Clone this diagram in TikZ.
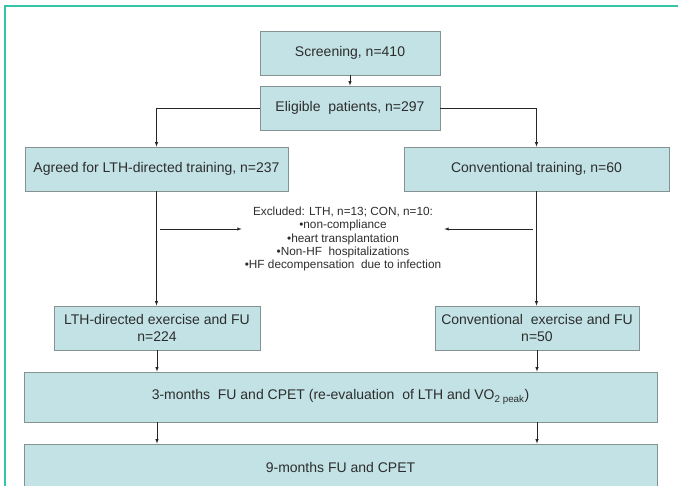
\documentclass[tikz,border=0pt]{standalone}
\usepackage{fontspec}
\setmainfont{Liberation Sans}
\usepackage{tikz}
\definecolor{boxfill}{RGB}{194,226,229}
\definecolor{boxline}{RGB}{132,146,148}
\definecolor{framecol}{RGB}{52,196,168}
\definecolor{txt}{RGB}{45,45,45}

\begin{document}
\begin{tikzpicture}[
   x=1pt,y=-1pt,
   font=\fontsize{14}{16.5}\selectfont,
   box/.style={draw=boxline,fill=boxfill,line width=0.9pt,text=txt,align=center,inner sep=2pt,minimum height=44pt},
   to/.style={-latex,line width=0.5pt,draw=black!85},
   excl/.style={text=txt,align=center,inner sep=3pt,font=\fontsize{11.8}{13.4}\selectfont},
   every node/.style={auto}]
\clip (0,0) rectangle (678,486);
\draw[framecol,line width=1.5pt] (5,500) -- (5,6) -- (690,6);
\node[box,minimum width=180pt] (screen) at (350,53) {Screening, n=410};
\node[box,minimum width=180pt] (elig) at (350,108) {Eligible\ \ patients, n=297};
\node[box,minimum width=263pt] (agreed) at (156.5,169) {Agreed for LTH-directed training, n=237};
\node[box,minimum width=265pt] (conv) at (536.5,169) {Conventional training, n=60};
\node[excl] (excluded) at (343,239) {Excluded: LTH, n=13; CON, n=10:\\•non-compliance\\•heart transplantation\\•Non-HF\ \ hospitalizations\\•HF decompensation\ \ due to infection};
\node[box,minimum width=206pt] (lthex) at (157,328) {LTH-directed exercise and FU\\n=224};
\node[box,minimum width=204pt] (convex) at (537,328) {Conventional\ \ exercise and FU\\n=50};
\node[box,minimum width=633pt,minimum height=50pt] (fu3) at (340.5,397) {3-months\ \ FU and CPET (re-evaluation\ \ of LTH and VO\textsubscript{2 peak})};
\node[box,minimum width=633pt,minimum height=46pt] (fu9) at (340.5,467) {9-months FU and CPET};
\coordinate (exl) at (160,229);
\coordinate (exr) at (533,229);
\draw[to] (screen) -- (elig);
\draw[to] (elig.west) -| (agreed.north);
\draw[to] (elig.east) -| (conv.north);
\draw[to] (agreed) -- (agreed |- lthex.north);
\draw[to] (conv) -- (conv |- convex.north);
\draw[to] (exl) -- (exl -| excluded.west);
\draw[to] (exr) -- (exr -| excluded.east);
\draw[to] (lthex) -- (lthex |- fu3.north);
\draw[to] (convex) -- (convex |- fu3.north);
\draw[to] (fu3.south -| lthex) -- (fu9.north -| lthex);
\draw[to] (fu3.south -| convex) -- (fu9.north -| convex);
\end{tikzpicture}
\end{document}
